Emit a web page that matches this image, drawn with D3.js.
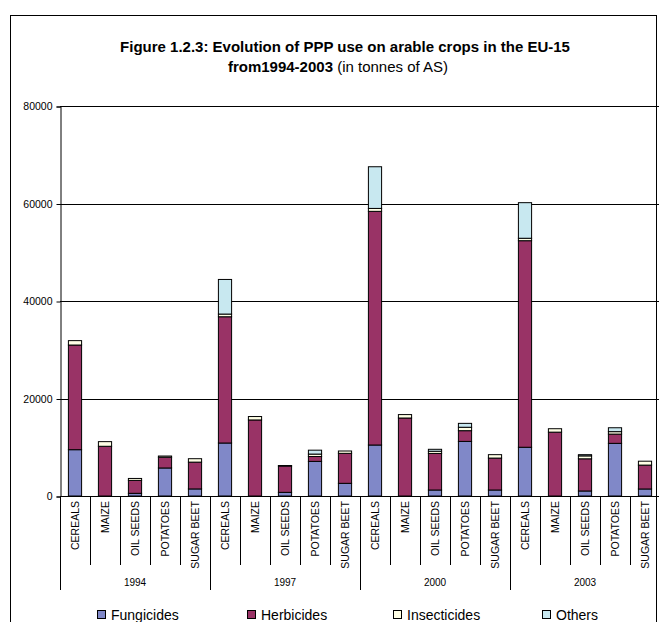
<!DOCTYPE html>
<html>
<head>
<meta charset="utf-8">
<script src="https://cdn.jsdelivr.net/npm/d3@7"></script>
<style>
  body { margin: 0; background: #fff; }
  svg { display: block; font-family: Arial, "Liberation Sans", sans-serif; }
</style>
</head>
<body>
<svg id="chart" width="659" height="622"></svg>
<script>
const years = ["1994", "1997", "2000", "2003"];
const crops = ["CEREALS", "MAIZE", "OIL SEEDS", "POTATOES", "SUGAR BEET"];
const seriesNames = ["Fungicides", "Herbicides", "Insecticides", "Others"];
const seriesColors = ["#8088c8", "#993366", "#ffffe6", "#c8e8f0"];
// values in order: 1994 (5 crops), 1997, 2000, 2003
const fungicides   = [9500, 0, 550, 5750, 1450,   10870, 0, 750, 7100, 2600,   10460, 0, 1230, 11200, 1230,   10000, 0, 1030, 10800, 1440];
const herbicides   = [21470, 10200, 2650, 2200, 5500,   25900, 15600, 5400, 1000, 6150,   47930, 16000, 7500, 2200, 6550,   42370, 13100, 6600, 1900, 4900];
const insecticides = [900, 950, 400, 250, 700,   550, 700, 100, 500, 480,   600, 700, 450, 700, 700,   500, 700, 600, 500, 800];
const others       = [0, 0, 0, 0, 0,   7100, 0, 0, 800, 0,   8550, 0, 400, 800, 0,   7300, 0, 250, 800, 0];
const yTicks = [0, 20000, 40000, 60000, 80000];

const rows = [];
years.forEach((yr, yi) => crops.forEach((c, ci) => {
  const i = yi * crops.length + ci;
  rows.push({ key: yr + "|" + c, year: yr, crop: c,
    Fungicides: fungicides[i], Herbicides: herbicides[i],
    Insecticides: insecticides[i], Others: others[i] });
}));

const svg = d3.select("#chart");

// outer frame
svg.append("rect").attr("x", 10.5).attr("y", 15.5).attr("width", 646).attr("height", 640)
  .attr("fill", "none").attr("stroke", "#000").attr("stroke-width", 1);

// title
svg.append("text").attr("x", 345).attr("y", 52).attr("text-anchor", "middle")
  .attr("font-size", 15).attr("font-weight", "bold")
  .text("Figure 1.2.3: Evolution of PPP use on arable crops in the EU-15");
const t2 = svg.append("text").attr("x", 338).attr("y", 72).attr("text-anchor", "middle").attr("font-size", 15);
t2.append("tspan").attr("font-weight", "bold").text("from1994-2003");
t2.append("tspan").text(" (in tonnes of AS)");

const x = d3.scaleBand().domain(rows.map(d => d.key)).range([60, 660])
  .paddingInner(0.56).paddingOuter(0.28);
const y = d3.scaleLinear().domain([0, 80000]).range([496, 106]);

// gridlines
svg.append("g").selectAll("line").data(yTicks.filter(v => v > 0)).join("line")
  .attr("x1", 60).attr("x2", 660)
  .attr("y1", d => Math.round(y(d)) + 0.5).attr("y2", d => Math.round(y(d)) + 0.5)
  .attr("stroke", "#000").attr("stroke-width", 1);

// y axis
const yAxis = d3.axisLeft(y).tickValues(yTicks).tickSize(4).tickPadding(4).tickFormat(d3.format("d"));
const gy = svg.append("g").attr("transform", "translate(60.5,0.5)").call(yAxis);
gy.select(".domain").attr("stroke", "#000");
gy.selectAll("text").attr("font-size", 10.5).attr("font-family", "Arial, 'Liberation Sans', sans-serif").attr("fill", "#000");

// bars
const stack = d3.stack().keys(seriesNames);
const stacked = stack(rows);
svg.append("g").selectAll("g").data(stacked).join("g")
  .attr("fill", (d, i) => seriesColors[i])
  .selectAll("rect").data(d => d.filter(s => s[1] - s[0] > 0)).join("rect")
  .attr("x", d => x(d.data.key))
  .attr("width", x.bandwidth())
  .attr("y", d => y(d[1]))
  .attr("height", d => y(d[0]) - y(d[1]))
  .attr("stroke", "#000").attr("stroke-width", 1);

// x axis baseline
svg.append("line").attr("x1", 60).attr("x2", 660).attr("y1", 496.5).attr("y2", 496.5).attr("stroke", "#000");

// category separators
const step = x.step();
const bounds = d3.range(rows.length + 1);
svg.append("g").selectAll("line").data(bounds).join("line")
  .attr("x1", i => 60 + i * step + 0.5).attr("x2", i => 60 + i * step + 0.5)
  .attr("y1", 496)
  .attr("y2", i => (i % crops.length === 0) ? 590 : 565)
  .attr("stroke", "#000").attr("stroke-width", 1);

// category labels
svg.append("g").selectAll("text").data(rows).join("text")
  .attr("transform", d => `translate(${x(d.key) + x.bandwidth() / 2 + 3.8},501) rotate(-90)`)
  .attr("text-anchor", "end").attr("font-size", 10.5).text(d => d.crop);

// year labels
svg.append("g").selectAll("text").data(years).join("text")
  .attr("x", (d, i) => 60 + (i * crops.length + crops.length / 2) * step)
  .attr("y", 586).attr("text-anchor", "middle").attr("font-size", 10).text(d => d);

// legend
const legX = [97, 247, 393, 542];
const leg = svg.append("g").selectAll("g").data(seriesNames).join("g")
  .attr("transform", (d, i) => `translate(${legX[i]},0)`);
leg.append("rect").attr("x", 0.5).attr("y", 610.5).attr("width", 8).attr("height", 8)
  .attr("fill", (d, i) => seriesColors[i]).attr("stroke", "#000");
leg.append("text").attr("x", 14).attr("y", 620).attr("font-size", 14).text(d => d);
</script>
</body>
</html>
